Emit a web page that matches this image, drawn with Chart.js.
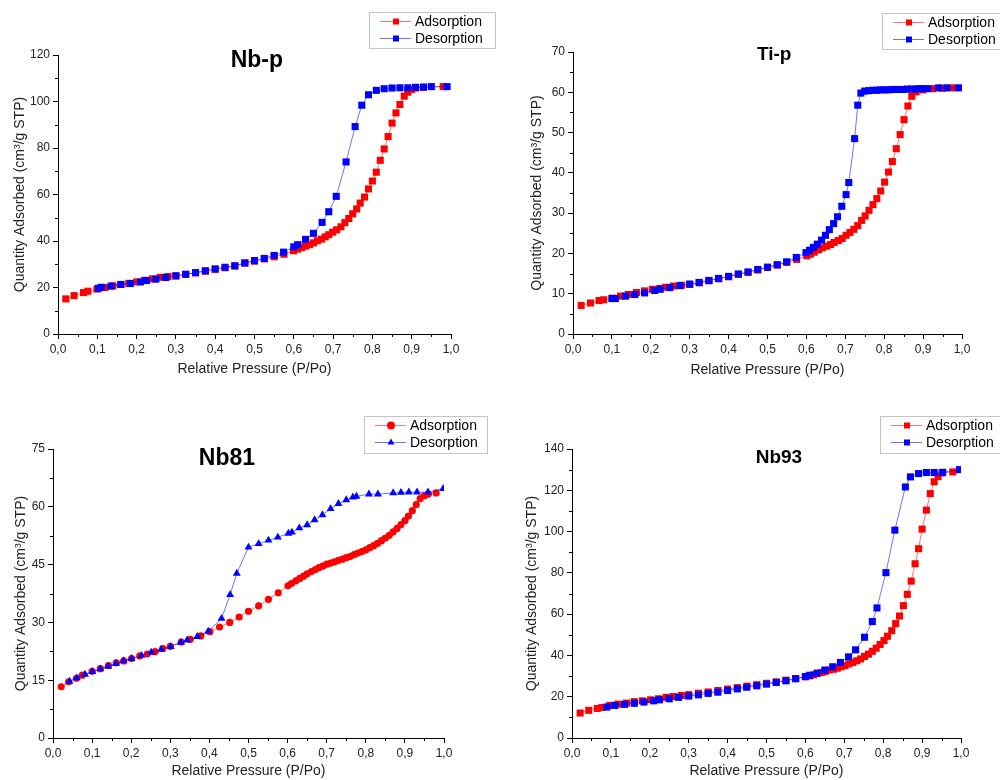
<!DOCTYPE html>
<html>
<head>
<meta charset="utf-8">
<title>Isotherms</title>
<script src="https://cdn.jsdelivr.net/npm/chart.js@4.4.1/dist/chart.umd.min.js"></script>
<style>
  body { margin: 0; background: #fff; }
  #wrap { position: relative; width: 1000px; height: 780px; overflow: hidden; }
  canvas { position: absolute; }
</style>
</head>
<body>
<div id="wrap">
  <canvas id="nbp" width="500" height="390" style="left:0;top:0"></canvas>
  <canvas id="tip" width="500" height="390" style="left:500px;top:0"></canvas>
  <canvas id="nb81" width="500" height="390" style="left:0;top:390px"></canvas>
  <canvas id="nb93" width="500" height="390" style="left:500px;top:390px"></canvas>
</div>
<script>
// [P/Po, quantity adsorbed]
const nbpAds = [[0.02,15.1],[0.041,16.5],[0.065,17.8],[0.076,18.4],[0.099,19.3],[0.12,20.0],[0.14,20.7],[0.16,21.3],[0.18,21.8],[0.20,22.4],[0.22,23.1],[0.24,23.7],[0.26,24.4],[0.28,24.7],[0.30,25.0],[0.325,25.6],[0.35,26.3],[0.375,27.0],[0.40,27.8],[0.425,28.5],[0.45,29.3],[0.476,30.6],[0.50,31.3],[0.525,32.3],[0.55,33.2],[0.575,34.3],[0.599,35.8],[0.61,36.5],[0.62,37.2],[0.63,37.8],[0.64,38.4],[0.65,39.2],[0.66,40.1],[0.67,40.8],[0.68,41.8],[0.689,42.7],[0.699,43.8],[0.709,44.8],[0.72,46.1],[0.73,47.9],[0.74,49.7],[0.75,51.7],[0.76,53.8],[0.769,56.3],[0.78,58.9],[0.79,62.4],[0.80,65.8],[0.81,69.6],[0.82,74.7],[0.83,79.6],[0.84,84.9],[0.85,90.7],[0.86,95.1],[0.87,98.7],[0.881,102.3],[0.89,104.0],[0.90,105.2],[0.91,105.8],[0.93,106.1],[0.98,106.4]];
const nbpDes = [[0.99,106.4],[0.95,106.4],[0.93,106.2],[0.91,106.1],[0.89,105.9],[0.87,105.9],[0.85,105.8],[0.83,105.5],[0.81,104.8],[0.79,102.9],[0.773,98.4],[0.756,89.2],[0.733,74.0],[0.708,59.2],[0.689,52.6],[0.672,48.0],[0.65,43.3],[0.63,40.7],[0.61,38.4],[0.60,37.5],[0.574,35.2],[0.55,33.8],[0.525,32.5],[0.50,31.6],[0.475,30.5],[0.45,29.3],[0.425,28.7],[0.40,28.0],[0.375,27.2],[0.35,26.4],[0.325,25.7],[0.30,25.0],[0.274,24.3],[0.249,23.6],[0.225,23.0],[0.21,22.4],[0.184,21.7],[0.16,21.3],[0.135,20.6],[0.11,20.1],[0.103,19.7]];

const tipAds = [[0.021,7.1],[0.045,7.7],[0.067,8.3],[0.079,8.5],[0.101,8.9],[0.122,9.4],[0.142,9.8],[0.163,10.3],[0.184,10.7],[0.204,11.1],[0.223,11.3],[0.238,11.6],[0.258,11.9],[0.279,12.1],[0.30,12.3],[0.325,12.7],[0.35,13.2],[0.375,13.7],[0.40,14.2],[0.425,14.8],[0.45,15.3],[0.475,15.9],[0.50,16.5],[0.525,17.1],[0.55,17.8],[0.575,18.5],[0.601,19.4],[0.61,19.8],[0.62,20.3],[0.631,20.9],[0.641,21.4],[0.652,21.8],[0.662,22.2],[0.671,22.7],[0.682,23.2],[0.692,23.7],[0.702,24.5],[0.712,25.2],[0.722,26.0],[0.732,26.9],[0.742,28.2],[0.751,29.3],[0.761,30.7],[0.771,32.1],[0.781,33.6],[0.791,35.5],[0.801,37.7],[0.811,40.2],[0.821,42.8],[0.831,46.0],[0.841,49.5],[0.851,53.2],[0.861,56.6],[0.871,59.0],[0.882,60.1],[0.90,60.6],[0.925,60.9],[0.95,61.0],[0.976,61.1]];
const tipDes = [[0.991,61.1],[0.961,61.1],[0.94,61.1],[0.912,60.9],[0.90,60.9],[0.89,60.9],[0.88,60.8],[0.87,60.8],[0.86,60.8],[0.85,60.7],[0.84,60.7],[0.83,60.7],[0.82,60.7],[0.81,60.6],[0.80,60.6],[0.79,60.6],[0.78,60.5],[0.77,60.5],[0.76,60.4],[0.75,60.3],[0.74,59.8],[0.732,56.8],[0.724,48.5],[0.709,37.6],[0.702,34.6],[0.691,31.7],[0.68,29.1],[0.67,27.4],[0.659,25.9],[0.649,24.5],[0.639,23.3],[0.628,22.3],[0.618,21.5],[0.608,20.8],[0.599,20.2],[0.574,19.0],[0.549,17.9],[0.525,17.2],[0.50,16.6],[0.475,16.0],[0.45,15.4],[0.425,14.9],[0.40,14.3],[0.374,13.8],[0.349,13.3],[0.324,12.8],[0.30,12.4],[0.275,12.0],[0.249,11.5],[0.224,11.1],[0.21,10.8],[0.184,10.2],[0.159,9.8],[0.135,9.4],[0.109,8.8],[0.10,8.8]];

const nb81Ads = [[0.021,13.3],[0.04,14.6],[0.06,15.5],[0.075,16.3],[0.10,17.3],[0.121,18.0],[0.142,18.8],[0.162,19.5],[0.181,20.0],[0.201,20.6],[0.222,21.3],[0.241,21.8],[0.261,22.4],[0.281,23.2],[0.30,23.8],[0.328,24.9],[0.351,25.6],[0.378,26.5],[0.401,27.6],[0.426,28.8],[0.452,30.0],[0.476,31.4],[0.50,32.9],[0.526,34.3],[0.551,36.0],[0.576,37.7],[0.601,39.5],[0.61,40.1],[0.621,40.8],[0.631,41.4],[0.641,42.0],[0.65,42.6],[0.661,43.2],[0.671,43.7],[0.68,44.2],[0.69,44.6],[0.70,45.1],[0.71,45.4],[0.72,45.7],[0.73,46.1],[0.74,46.4],[0.75,46.8],[0.76,47.1],[0.77,47.6],[0.78,48.0],[0.79,48.4],[0.80,48.8],[0.81,49.4],[0.82,49.9],[0.83,50.5],[0.84,51.2],[0.85,51.9],[0.86,52.6],[0.87,53.5],[0.88,54.4],[0.89,55.4],[0.90,56.4],[0.909,57.6],[0.919,59.0],[0.929,60.6],[0.939,62.1],[0.95,62.9],[0.96,63.3],[0.98,63.6]];
const nb81Des = [[0.998,64.7],[0.959,63.8],[0.931,63.8],[0.91,63.8],[0.89,63.7],[0.87,63.6],[0.831,63.3],[0.808,63.3],[0.776,62.7],[0.767,62.5],[0.75,61.8],[0.73,60.8],[0.71,59.5],[0.689,57.9],[0.669,56.6],[0.65,55.3],[0.63,54.5],[0.611,53.4],[0.602,53.1],[0.575,52.1],[0.551,51.3],[0.526,50.4],[0.50,49.5],[0.47,42.7],[0.453,37.2],[0.431,31.0],[0.397,27.7],[0.369,26.3],[0.343,25.4],[0.327,24.8],[0.301,23.7],[0.277,23.0],[0.251,22.2],[0.226,21.4],[0.201,20.6],[0.18,20.0],[0.161,19.3],[0.141,18.6],[0.121,17.9],[0.101,17.2],[0.082,16.5],[0.061,15.6],[0.042,14.7]];

const nb93Ads = [[0.021,12.1],[0.043,13.4],[0.065,14.3],[0.077,14.8],[0.097,15.8],[0.118,16.4],[0.14,16.9],[0.16,17.6],[0.181,18.0],[0.202,18.5],[0.222,19.0],[0.242,19.7],[0.26,20.1],[0.281,20.6],[0.30,21.0],[0.325,21.7],[0.35,22.3],[0.375,23.0],[0.40,23.7],[0.425,24.4],[0.45,25.1],[0.475,25.8],[0.50,26.5],[0.525,27.2],[0.55,28.0],[0.575,28.8],[0.60,29.6],[0.611,30.1],[0.621,30.6],[0.631,31.3],[0.642,31.7],[0.651,32.2],[0.661,32.9],[0.672,33.3],[0.682,33.8],[0.692,34.5],[0.702,35.1],[0.712,35.9],[0.722,36.6],[0.732,37.4],[0.742,38.3],[0.752,39.5],[0.762,40.6],[0.772,42.0],[0.782,43.5],[0.792,45.3],[0.802,47.2],[0.811,49.3],[0.822,52.0],[0.832,55.4],[0.842,59.1],[0.852,64.1],[0.862,69.6],[0.872,76.0],[0.882,84.4],[0.891,91.7],[0.90,101.2],[0.911,110.4],[0.921,118.4],[0.931,124.1],[0.941,126.6],[0.951,128.4],[0.979,128.9]];
const nb93Des = [[0.996,130.0],[0.953,128.7],[0.931,128.6],[0.911,128.6],[0.891,128.1],[0.87,126.5],[0.857,121.6],[0.83,100.7],[0.807,80.1],[0.784,63.0],[0.772,56.4],[0.752,48.8],[0.729,42.7],[0.711,39.3],[0.69,36.6],[0.67,34.5],[0.65,32.9],[0.63,31.4],[0.611,30.4],[0.60,29.8],[0.575,28.7],[0.55,27.7],[0.525,26.9],[0.50,26.1],[0.475,25.3],[0.449,24.6],[0.425,23.8],[0.40,23.0],[0.375,22.2],[0.35,21.6],[0.325,20.9],[0.30,20.3],[0.274,19.7],[0.25,19.0],[0.225,18.5],[0.21,18.0],[0.185,17.4],[0.16,16.8],[0.135,16.3],[0.11,15.8],[0.09,15.0]];

const seriesLabels = ['Adsorption', 'Desorption'];
const xTitle = 'Relative Pressure (P/Po)';
const yTitle = 'Quantity Adsorbed (cm³/g STP)';

const FONT = "'Liberation Sans', Arial, sans-serif";
const RED_LINE = 'rgba(255,0,0,0.55)';
const BLUE_LINE = 'rgba(0,0,255,0.55)';

const comma = v => (Math.round(v * 10) / 10).toFixed(1).replace('.', ',');

function shape(ctx, style, x, y, r) {
    ctx.beginPath();
    if (style === 'circle') {
        ctx.arc(x, y, r, 0, Math.PI * 2);
    } else if (style === 'triangle') {
        ctx.moveTo(x, y - r);
        ctx.lineTo(x + r * 0.866, y + r * 0.5);
        ctx.lineTo(x - r * 0.866, y + r * 0.5);
        ctx.closePath();
    } else {
        ctx.rect(x - r, y - r, r * 2, r * 2);
    }
    ctx.fill();
}

// title drawn inside the plot area
const panelTitle = {
    id: 'panelTitle',
    afterDraw(chart, args, o) {
        const {ctx, chartArea} = chart;
        ctx.save();
        ctx.font = 'bold ' + o.size + 'px ' + FONT;
        ctx.fillStyle = '#000';
        ctx.textAlign = 'center';
        ctx.textBaseline = 'middle';
        ctx.fillText(o.text, chartArea.left + o.fx * chartArea.width, chartArea.top + o.dy);
        ctx.restore();
    }
};

// boxed legend in the top right corner
const boxLegend = {
    id: 'boxLegend',
    afterDraw(chart, args, o) {
        const ctx = chart.ctx;
        ctx.save();
        ctx.fillStyle = '#fff';
        ctx.fillRect(o.left, o.top, o.width, o.height);
        ctx.strokeStyle = '#c4c4c4';
        ctx.lineWidth = 1;
        ctx.strokeRect(o.left + 0.5, o.top + 0.5, o.width, o.height);
        chart.data.datasets.forEach((ds, i) => {
            const y = o.top + 9.5 + i * 17;
            ctx.strokeStyle = ds.borderColor;
            ctx.beginPath();
            ctx.moveTo(o.left + 11, y);
            ctx.lineTo(o.left + 42, y);
            ctx.stroke();
            ctx.fillStyle = ds.backgroundColor;
            shape(ctx, ds.pointStyle, o.left + 27, y, ds.pointStyle === 'rect' ? 3 : 4);
            ctx.fillStyle = '#000';
            ctx.font = '14px ' + FONT;
            ctx.textBaseline = 'middle';
            ctx.fillText(ds.label, o.left + 46, y + 1);
        });
        ctx.restore();
    }
};

// short minor ticks half way between the labelled ones
const minorTicks = {
    id: 'minorTicks',
    afterDraw(chart, args, o) {
        const {ctx, scales} = chart;
        const x = scales.x, y = scales.y;
        ctx.save();
        ctx.strokeStyle = '#000';
        ctx.lineWidth = 1;
        ctx.beginPath();
        for (let v = x.min + o.x; v < x.max; v += 2 * o.x) {
            const px = Math.round(x.getPixelForValue(v)) + 0.5;
            ctx.moveTo(px, x.top);
            ctx.lineTo(px, x.top + 3);
        }
        for (let v = y.min + o.y; v < y.max; v += 2 * o.y) {
            const py = Math.round(y.getPixelForValue(v)) + 0.5;
            ctx.moveTo(y.right, py);
            ctx.lineTo(y.right - 3, py);
        }
        ctx.stroke();
        ctx.restore();
    }
};

function makeChart(id, p) {
    const ctx = document.getElementById(id).getContext('2d');
    const pts = arr => arr.map(d => ({x: d[0], y: d[1]}));
    return new Chart(ctx, {
        type: 'scatter',
        data: {
            datasets: [{
                label: seriesLabels[0],
                data: pts(p.ads),
                showLine: true,
                borderColor: RED_LINE,
                borderWidth: 1,
                backgroundColor: '#ff0000',
                pointBackgroundColor: '#ff0000',
                pointStyle: p.adsStyle,
                pointRadius: p.adsRadius,
                pointBorderWidth: 0,
                order: 1
            }, {
                label: seriesLabels[1],
                data: pts(p.des),
                showLine: true,
                borderColor: BLUE_LINE,
                borderWidth: 1,
                backgroundColor: '#0000ff',
                pointBackgroundColor: '#0000ff',
                pointStyle: p.desStyle,
                pointRadius: p.desRadius,
                pointBorderWidth: 0,
                order: 0
            }]
        },
        options: {
            responsive: false,
            animation: false,
            layout: { padding: { left: 0, right: p.padRight, top: p.padTop, bottom: 0 } },
            plugins: {
                legend: { display: false },
                tooltip: { enabled: false },
                panelTitle: p.title,
                boxLegend: p.legend,
                minorTicks: { x: 0.05, y: p.yStep / 2 }
            },
            scales: {
                x: {
                    type: 'linear',
                    min: 0,
                    max: 1,
                    ticks: { stepSize: 0.1, callback: comma, color: '#222', font: { family: FONT, size: 12 }, padding: 3, maxRotation: 0 },
                    grid: { drawOnChartArea: false, tickLength: 5, color: '#000' },
                    border: { color: '#000', width: 1 },
                    title: { display: true, text: xTitle, color: '#222', font: { family: FONT, size: 14 }, padding: { top: 0, bottom: p.xTitlePad } },
                    afterFit: s => { s.height = p.xHeight; }
                },
                y: {
                    min: 0,
                    max: p.yMax,
                    ticks: { stepSize: p.yStep, color: '#222', font: { family: FONT, size: 12 }, padding: 3 },
                    grid: { drawOnChartArea: false, tickLength: 5, color: '#000' },
                    border: { color: '#000', width: 1 },
                    title: { display: true, text: yTitle, color: '#222', font: { family: FONT, size: 14 }, padding: { top: p.yTitlePad, bottom: 0 } },
                    afterFit: s => { s.width = p.yWidth; }
                }
            }
        },
        plugins: [minorTicks, panelTitle, boxLegend]
    });
}

makeChart('nbp', {
    ads: nbpAds, des: nbpDes, adsStyle: 'rect', desStyle: 'rect', adsRadius: 5, desRadius: 5,
    yMax: 120, yStep: 20, yWidth: 58, xHeight: 56, padRight: 49, padTop: 55, xTitlePad: 12, yTitlePad: 12,
    title: { text: 'Nb-p', size: 23, fx: 0.506, dy: 6 },
    legend: { left: 369, top: 12, width: 126, height: 36 }
});
makeChart('tip', {
    ads: tipAds, des: tipDes, adsStyle: 'rect', desStyle: 'rect', adsRadius: 5, desRadius: 5,
    yMax: 70, yStep: 10, yWidth: 73, xHeight: 56, padRight: 38, padTop: 52, xTitlePad: 11, yTitlePad: 29,
    title: { text: 'Ti-p', size: 19, fx: 0.517, dy: 3 },
    legend: { left: 382, top: 13, width: 130, height: 36 }
});
makeChart('nb81', {
    ads: nb81Ads, des: nb81Des, adsStyle: 'circle', desStyle: 'triangle', adsRadius: 3.6, desRadius: 4.6,
    yMax: 75, yStep: 15, yWidth: 53, xHeight: 42, padRight: 56, padTop: 59, xTitlePad: 0, yTitlePad: 13,
    title: { text: 'Nb81', size: 23, fx: 0.445, dy: 10 },
    legend: { left: 364, top: 26, width: 123, height: 37 }
});
makeChart('nb93', {
    ads: nb93Ads, des: nb93Des, adsStyle: 'rect', desStyle: 'rect', adsRadius: 5, desRadius: 5,
    yMax: 140, yStep: 20, yWidth: 72, xHeight: 42, padRight: 39, padTop: 59, xTitlePad: 0, yTitlePad: 24,
    title: { text: 'Nb93', size: 19, fx: 0.532, dy: 9 },
    legend: { left: 380, top: 26, width: 130, height: 37 }
});
</script>
</body>
</html>
